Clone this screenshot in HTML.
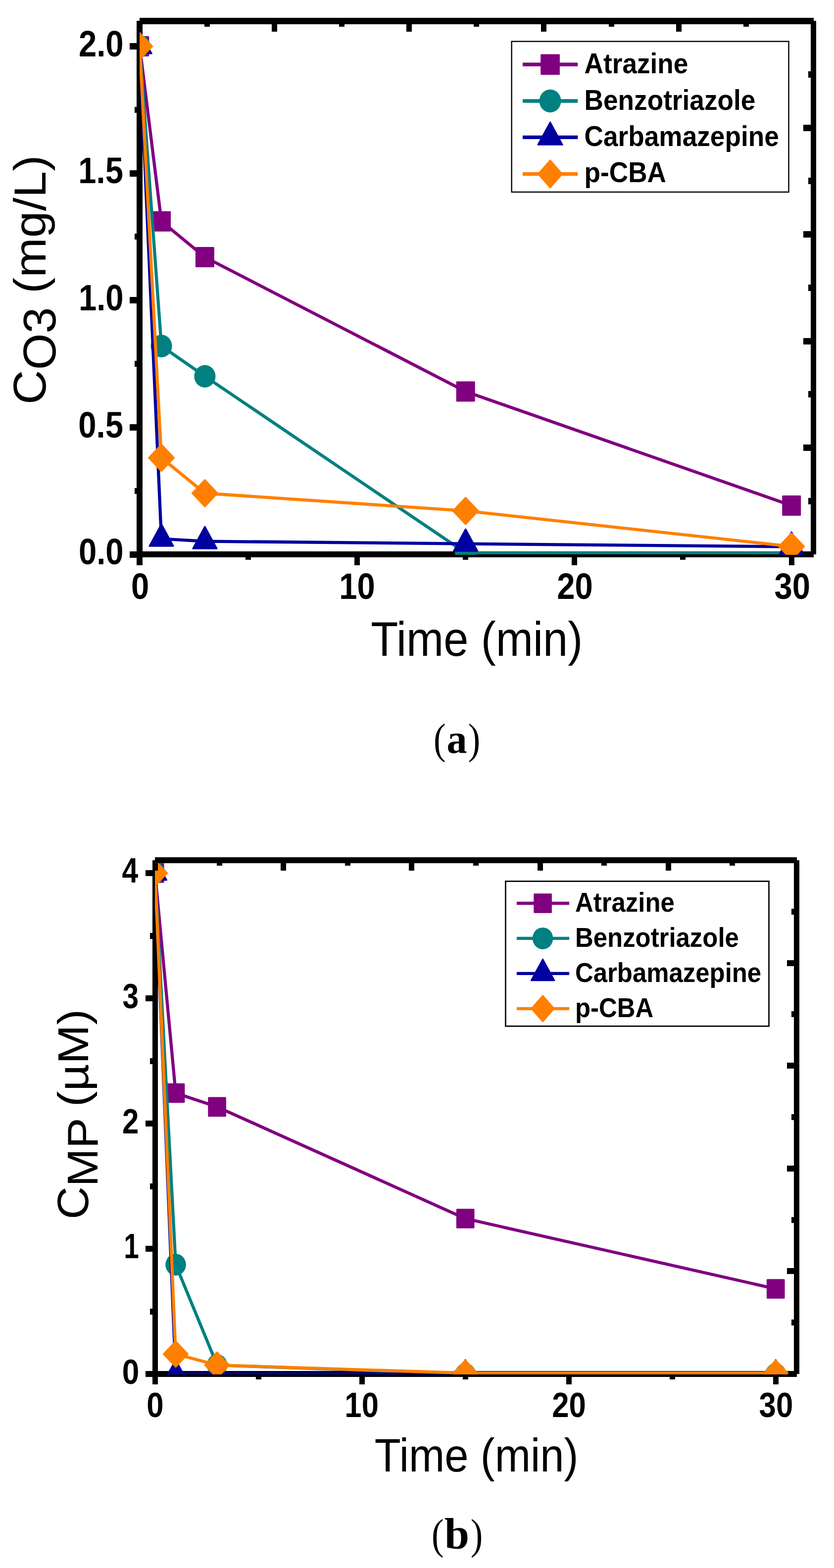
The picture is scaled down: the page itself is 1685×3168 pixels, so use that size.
<!DOCTYPE html>
<html><head><meta charset="utf-8"><title>Figure</title>
<style>html,body{margin:0;padding:0;background:#fff;} svg{display:block;}</style>
</head><body>
<svg width="1685" height="3168" viewBox="0 0 1685 3168">
<rect width="1685" height="3168" fill="#fff"/>
<clipPath id="ca"><rect x="282" y="42.5" width="1361.5" height="1078.5"/></clipPath>
<rect x="282" y="36" width="1362" height="13" fill="#000" shape-rendering="crispEdges"/>
<rect x="1638" y="42" width="11" height="1078" fill="#000" shape-rendering="crispEdges"/>
<rect x="262" y="1114" width="1382" height="12" fill="#000" shape-rendering="crispEdges"/>
<rect x="276" y="42" width="12" height="1100" fill="#000" shape-rendering="crispEdges"/>
<rect x="262" y="1113.5" width="14" height="13" fill="#000" shape-rendering="crispEdges"/>
<rect x="272" y="985.69" width="4" height="12" fill="#000" shape-rendering="crispEdges"/>
<rect x="262" y="856.88" width="14" height="13" fill="#000" shape-rendering="crispEdges"/>
<rect x="272" y="729.06" width="4" height="12" fill="#000" shape-rendering="crispEdges"/>
<rect x="262" y="600.25" width="14" height="13" fill="#000" shape-rendering="crispEdges"/>
<rect x="272" y="472.44" width="4" height="12" fill="#000" shape-rendering="crispEdges"/>
<rect x="262" y="343.62" width="14" height="13" fill="#000" shape-rendering="crispEdges"/>
<rect x="272" y="215.81" width="4" height="12" fill="#000" shape-rendering="crispEdges"/>
<rect x="262" y="87" width="14" height="13" fill="#000" shape-rendering="crispEdges"/>
<rect x="276.7" y="1126" width="11" height="16" fill="#000" shape-rendering="crispEdges"/>
<rect x="496.2" y="1126" width="11" height="5" fill="#000" shape-rendering="crispEdges"/>
<rect x="715.7" y="1126" width="11" height="16" fill="#000" shape-rendering="crispEdges"/>
<rect x="935.2" y="1126" width="11" height="5" fill="#000" shape-rendering="crispEdges"/>
<rect x="1154.7" y="1126" width="11" height="16" fill="#000" shape-rendering="crispEdges"/>
<rect x="1374.2" y="1126" width="11" height="5" fill="#000" shape-rendering="crispEdges"/>
<rect x="1593.7" y="1126" width="11" height="16" fill="#000" shape-rendering="crispEdges"/>
<rect x="412.65" y="49" width="11" height="5" fill="#000" shape-rendering="crispEdges"/>
<rect x="548.8" y="49" width="11" height="15" fill="#000" shape-rendering="crispEdges"/>
<rect x="684.95" y="49" width="11" height="5" fill="#000" shape-rendering="crispEdges"/>
<rect x="821.1" y="49" width="11" height="15" fill="#000" shape-rendering="crispEdges"/>
<rect x="957.25" y="49" width="11" height="5" fill="#000" shape-rendering="crispEdges"/>
<rect x="1093.4" y="49" width="11" height="15" fill="#000" shape-rendering="crispEdges"/>
<rect x="1229.55" y="49" width="11" height="5" fill="#000" shape-rendering="crispEdges"/>
<rect x="1365.7" y="49" width="11" height="15" fill="#000" shape-rendering="crispEdges"/>
<rect x="1501.85" y="49" width="11" height="5" fill="#000" shape-rendering="crispEdges"/>
<rect x="1633" y="143.75" width="5" height="13" fill="#000" shape-rendering="crispEdges"/>
<rect x="1623" y="251.5" width="15" height="13" fill="#000" shape-rendering="crispEdges"/>
<rect x="1633" y="359.25" width="5" height="13" fill="#000" shape-rendering="crispEdges"/>
<rect x="1623" y="467" width="15" height="13" fill="#000" shape-rendering="crispEdges"/>
<rect x="1633" y="574.75" width="5" height="13" fill="#000" shape-rendering="crispEdges"/>
<rect x="1623" y="682.5" width="15" height="13" fill="#000" shape-rendering="crispEdges"/>
<rect x="1633" y="790.25" width="5" height="13" fill="#000" shape-rendering="crispEdges"/>
<rect x="1623" y="898" width="15" height="13" fill="#000" shape-rendering="crispEdges"/>
<rect x="1633" y="1005.75" width="5" height="13" fill="#000" shape-rendering="crispEdges"/>
<g clip-path="url(#ca)">
<polyline points="282.2,93.5 326.1,447.13 413.9,519.5 940.7,791.01 1599.2,1021.46" fill="none" stroke="#800080" stroke-width="6.3" stroke-linejoin="round"/><rect x="264.7" y="74.5" width="35" height="38" fill="#800080" stroke="#800080" stroke-width="3" stroke-linejoin="round"/><rect x="308.6" y="428.13" width="35" height="38" fill="#800080" stroke="#800080" stroke-width="3" stroke-linejoin="round"/><rect x="396.4" y="500.5" width="35" height="38" fill="#800080" stroke="#800080" stroke-width="3" stroke-linejoin="round"/><rect x="923.2" y="772.01" width="35" height="38" fill="#800080" stroke="#800080" stroke-width="3" stroke-linejoin="round"/><rect x="1581.7" y="1002.46" width="35" height="38" fill="#800080" stroke="#800080" stroke-width="3" stroke-linejoin="round"/>
<polyline points="282.2,93.5 326.1,699.13 413.9,760.21 940.7,1116.92 1599.2,1116.92" fill="none" stroke="#008080" stroke-width="6.3" stroke-linejoin="round"/><ellipse cx="282.2" cy="93.5" rx="21.5" ry="22.8" fill="#008080"/><ellipse cx="326.1" cy="699.13" rx="21.5" ry="22.8" fill="#008080"/><ellipse cx="413.9" cy="760.21" rx="21.5" ry="22.8" fill="#008080"/><ellipse cx="940.7" cy="1116.92" rx="21.5" ry="22.8" fill="#008080"/><ellipse cx="1599.2" cy="1116.92" rx="21.5" ry="22.8" fill="#008080"/>
<polyline points="282.2,93.5 326.1,1088.69 413.9,1093.62 940.7,1098.6 1599.2,1104.6" fill="none" stroke="#0000A0" stroke-width="6.3" stroke-linejoin="round"/><polygon points="282.2,63.9 306.3,108.1 258.1,108.1" fill="#0000A0" stroke="#0000A0" stroke-width="3" stroke-linejoin="round"/><polygon points="326.1,1059.09 350.2,1103.29 302,1103.29" fill="#0000A0" stroke="#0000A0" stroke-width="3" stroke-linejoin="round"/><polygon points="413.9,1064.02 438,1108.22 389.8,1108.22" fill="#0000A0" stroke="#0000A0" stroke-width="3" stroke-linejoin="round"/><polygon points="940.7,1069 964.8,1113.2 916.6,1113.2" fill="#0000A0" stroke="#0000A0" stroke-width="3" stroke-linejoin="round"/><polygon points="1599.2,1075 1623.3,1119.2 1575.1,1119.2" fill="#0000A0" stroke="#0000A0" stroke-width="3" stroke-linejoin="round"/>
<polyline points="282.2,93.5 326.1,924.97 413.9,996.51 940.7,1032.23 1599.2,1104.09" fill="none" stroke="#FF8000" stroke-width="6.3" stroke-linejoin="round"/><polygon points="282.2,66.5 307.7,93.5 282.2,120.5 256.7,93.5" fill="#FF8000" stroke="#FF8000" stroke-width="3" stroke-linejoin="round"/><polygon points="326.1,897.97 351.6,924.97 326.1,951.97 300.6,924.97" fill="#FF8000" stroke="#FF8000" stroke-width="3" stroke-linejoin="round"/><polygon points="413.9,969.51 439.4,996.51 413.9,1023.51 388.4,996.51" fill="#FF8000" stroke="#FF8000" stroke-width="3" stroke-linejoin="round"/><polygon points="940.7,1005.23 966.2,1032.23 940.7,1059.23 915.2,1032.23" fill="#FF8000" stroke="#FF8000" stroke-width="3" stroke-linejoin="round"/><polygon points="1599.2,1077.09 1624.7,1104.09 1599.2,1131.09 1573.7,1104.09" fill="#FF8000" stroke="#FF8000" stroke-width="3" stroke-linejoin="round"/>
</g>
<text transform="translate(158.98,1140.38) scale(0.6520,0.7340)" font-family="'Liberation Sans', Arial, sans-serif" font-weight="bold" font-size="100">0.0</text>
<text transform="translate(158.33,883.75) scale(0.6520,0.7340)" font-family="'Liberation Sans', Arial, sans-serif" font-weight="bold" font-size="100">0.5</text>
<text transform="translate(158.98,627.13) scale(0.6520,0.7340)" font-family="'Liberation Sans', Arial, sans-serif" font-weight="bold" font-size="100">1.0</text>
<text transform="translate(158.33,369.77) scale(0.6520,0.7340)" font-family="'Liberation Sans', Arial, sans-serif" font-weight="bold" font-size="100">1.5</text>
<text transform="translate(158.98,113.88) scale(0.6520,0.7340)" font-family="'Liberation Sans', Arial, sans-serif" font-weight="bold" font-size="100">2.0</text>
<text transform="translate(265.07,1210.38) scale(0.6520,0.7340)" font-family="'Liberation Sans', Arial, sans-serif" font-weight="bold" font-size="100">0</text>
<text transform="translate(685.16,1210.38) scale(0.6520,0.7340)" font-family="'Liberation Sans', Arial, sans-serif" font-weight="bold" font-size="100">10</text>
<text transform="translate(1125.14,1210.38) scale(0.6520,0.7340)" font-family="'Liberation Sans', Arial, sans-serif" font-weight="bold" font-size="100">20</text>
<text transform="translate(1564.47,1210.38) scale(0.6520,0.7340)" font-family="'Liberation Sans', Arial, sans-serif" font-weight="bold" font-size="100">30</text>

<text transform="translate(749.19,1324.8) scale(0.9036,0.9750)" font-family="'Liberation Sans', Arial, sans-serif" font-size="100">Time (min)</text>
<text transform="translate(92.07,817.33) rotate(-90) scale(0.9651,0.9296)" font-family="'Liberation Sans', Arial, sans-serif" font-size="100">C</text>
<text transform="translate(112.07,747.24) rotate(-90) scale(0.9476,0.9296)" font-family="'Liberation Sans', Arial, sans-serif" font-size="100">O3</text>
<text transform="translate(91.9,593.01) rotate(-90) scale(0.9679,0.9100)" font-family="'Liberation Sans', Arial, sans-serif" font-size="100">(mg/L)</text>
<rect x="1033.7" y="83.7" width="559.8" height="304.3" fill="none" stroke="#000" stroke-width="2.4"/>
<line x1="1056" y1="130.3" x2="1167.3" y2="130.3" stroke="#800080" stroke-width="7.4"/>
<rect x="1093.72" y="110.89" width="35.76" height="38.82" fill="#800080" stroke="#800080" stroke-width="3" stroke-linejoin="round"/>
<text transform="translate(1180.6,148) scale(0.5320,0.5680)" font-family="'Liberation Sans', Arial, sans-serif" font-weight="bold" font-size="100">Atrazine</text>
<line x1="1056" y1="204" x2="1167.3" y2="204" stroke="#008080" stroke-width="7.4"/>
<ellipse cx="1111.6" cy="204" rx="21.93" ry="23.26" fill="#008080"/>
<text transform="translate(1180.6,221.6) scale(0.5320,0.5680)" font-family="'Liberation Sans', Arial, sans-serif" font-weight="bold" font-size="100">Benzotriazole</text>
<line x1="1056" y1="277.4" x2="1167.3" y2="277.4" stroke="#0000A0" stroke-width="7.4"/>
<polygon points="1111.6,247.17 1136.21,292.32 1086.99,292.32" fill="#0000A0" stroke="#0000A0" stroke-width="3" stroke-linejoin="round"/>
<text transform="translate(1180.6,295) scale(0.5320,0.5680)" font-family="'Liberation Sans', Arial, sans-serif" font-weight="bold" font-size="100">Carbamazepine</text>
<line x1="1056" y1="351.5" x2="1167.3" y2="351.5" stroke="#FF8000" stroke-width="7.4"/>
<polygon points="1111.6,323.93 1135.71,351.5 1111.6,379.07 1087.49,351.5" fill="#FF8000" stroke="#FF8000" stroke-width="3" stroke-linejoin="round"/>
<text transform="translate(1180.6,368.4) scale(0.5320,0.5680)" font-family="'Liberation Sans', Arial, sans-serif" font-weight="bold" font-size="100">p-CBA</text>
<text transform="translate(875.96,1521.72) scale(0.7357,0.8656)" font-family="'Liberation Serif', 'Times New Roman', serif" font-size="100">(</text>
<text transform="translate(945.66,1521.72) scale(0.7357,0.8656)" font-family="'Liberation Serif', 'Times New Roman', serif" font-size="100">)</text>
<text transform="translate(902.53,1520.95) scale(0.8222,0.8521)" font-family="'Liberation Serif', 'Times New Roman', serif" font-weight="bold" font-size="100">a</text>
<clipPath id="cb"><rect x="313" y="1743.7" width="1296.5" height="1033"/></clipPath>
<rect x="313" y="1732" width="1297" height="12" fill="#000" shape-rendering="crispEdges"/>
<rect x="1604" y="1738" width="11" height="1038" fill="#000" shape-rendering="crispEdges"/>
<rect x="294" y="2770" width="1316" height="12" fill="#000" shape-rendering="crispEdges"/>
<rect x="308" y="1738" width="11" height="1059" fill="#000" shape-rendering="crispEdges"/>
<rect x="294" y="2770" width="14" height="12" fill="#000" shape-rendering="crispEdges"/>
<rect x="303" y="2643.5" width="5" height="12" fill="#000" shape-rendering="crispEdges"/>
<rect x="294" y="2517" width="14" height="12" fill="#000" shape-rendering="crispEdges"/>
<rect x="303" y="2390.5" width="5" height="12" fill="#000" shape-rendering="crispEdges"/>
<rect x="294" y="2264" width="14" height="12" fill="#000" shape-rendering="crispEdges"/>
<rect x="303" y="2137.5" width="5" height="12" fill="#000" shape-rendering="crispEdges"/>
<rect x="294" y="2011" width="14" height="12" fill="#000" shape-rendering="crispEdges"/>
<rect x="303" y="1884.5" width="5" height="12" fill="#000" shape-rendering="crispEdges"/>
<rect x="294" y="1758" width="14" height="12" fill="#000" shape-rendering="crispEdges"/>
<rect x="307.7" y="2782" width="11" height="15" fill="#000" shape-rendering="crispEdges"/>
<rect x="516.7" y="2782" width="11" height="5" fill="#000" shape-rendering="crispEdges"/>
<rect x="725.7" y="2782" width="11" height="15" fill="#000" shape-rendering="crispEdges"/>
<rect x="934.7" y="2782" width="11" height="5" fill="#000" shape-rendering="crispEdges"/>
<rect x="1143.7" y="2782" width="11" height="15" fill="#000" shape-rendering="crispEdges"/>
<rect x="1352.7" y="2782" width="11" height="5" fill="#000" shape-rendering="crispEdges"/>
<rect x="1561.7" y="2782" width="11" height="15" fill="#000" shape-rendering="crispEdges"/>
<rect x="437.6" y="1744" width="11" height="5" fill="#000" shape-rendering="crispEdges"/>
<rect x="567.2" y="1744" width="11" height="15" fill="#000" shape-rendering="crispEdges"/>
<rect x="696.8" y="1744" width="11" height="5" fill="#000" shape-rendering="crispEdges"/>
<rect x="826.4" y="1744" width="11" height="15" fill="#000" shape-rendering="crispEdges"/>
<rect x="956" y="1744" width="11" height="5" fill="#000" shape-rendering="crispEdges"/>
<rect x="1085.6" y="1744" width="11" height="15" fill="#000" shape-rendering="crispEdges"/>
<rect x="1215.2" y="1744" width="11" height="5" fill="#000" shape-rendering="crispEdges"/>
<rect x="1344.8" y="1744" width="11" height="15" fill="#000" shape-rendering="crispEdges"/>
<rect x="1474.4" y="1744" width="11" height="5" fill="#000" shape-rendering="crispEdges"/>
<rect x="1599" y="1835.8" width="5" height="12" fill="#000" shape-rendering="crispEdges"/>
<rect x="1590" y="1939.6" width="14" height="12" fill="#000" shape-rendering="crispEdges"/>
<rect x="1599" y="2043.4" width="5" height="12" fill="#000" shape-rendering="crispEdges"/>
<rect x="1590" y="2147.2" width="14" height="12" fill="#000" shape-rendering="crispEdges"/>
<rect x="1599" y="2251" width="5" height="12" fill="#000" shape-rendering="crispEdges"/>
<rect x="1590" y="2354.8" width="14" height="12" fill="#000" shape-rendering="crispEdges"/>
<rect x="1599" y="2458.6" width="5" height="12" fill="#000" shape-rendering="crispEdges"/>
<rect x="1590" y="2562.4" width="14" height="12" fill="#000" shape-rendering="crispEdges"/>
<rect x="1599" y="2666.2" width="5" height="12" fill="#000" shape-rendering="crispEdges"/>
<g clip-path="url(#cb)">
<polyline points="313.2,1764 355,2208.52 438.6,2236.35 940.2,2462.03 1567.2,2603.96" fill="none" stroke="#800080" stroke-width="6.3" stroke-linejoin="round"/><rect x="296.37" y="1745.72" width="33.67" height="36.56" fill="#800080" stroke="#800080" stroke-width="3" stroke-linejoin="round"/><rect x="338.17" y="2190.24" width="33.67" height="36.56" fill="#800080" stroke="#800080" stroke-width="3" stroke-linejoin="round"/><rect x="421.76" y="2218.07" width="33.67" height="36.56" fill="#800080" stroke="#800080" stroke-width="3" stroke-linejoin="round"/><rect x="923.37" y="2443.74" width="33.67" height="36.56" fill="#800080" stroke="#800080" stroke-width="3" stroke-linejoin="round"/><rect x="1550.37" y="2585.68" width="33.67" height="36.56" fill="#800080" stroke="#800080" stroke-width="3" stroke-linejoin="round"/>
<polyline points="313.2,1764 355,2555.13 438.6,2758.04 940.2,2776 1567.2,2776" fill="none" stroke="#008080" stroke-width="6.3" stroke-linejoin="round"/><ellipse cx="313.2" cy="1764" rx="20.75" ry="22" fill="#008080"/><ellipse cx="355" cy="2555.13" rx="20.75" ry="22" fill="#008080"/><ellipse cx="438.6" cy="2758.04" rx="20.75" ry="22" fill="#008080"/><ellipse cx="940.2" cy="2776" rx="20.75" ry="22" fill="#008080"/><ellipse cx="1567.2" cy="2776" rx="20.75" ry="22" fill="#008080"/>
<polyline points="313.2,1764 355,2776 438.6,2776 940.2,2776 1567.2,2776" fill="none" stroke="#0000A0" stroke-width="6.3" stroke-linejoin="round"/><polygon points="313.2,1735.51 336.4,1778.04 290,1778.04" fill="#0000A0" stroke="#0000A0" stroke-width="3" stroke-linejoin="round"/><polygon points="355,2747.51 378.2,2790.04 331.8,2790.04" fill="#0000A0" stroke="#0000A0" stroke-width="3" stroke-linejoin="round"/><polygon points="438.6,2747.51 461.8,2790.04 415.4,2790.04" fill="#0000A0" stroke="#0000A0" stroke-width="3" stroke-linejoin="round"/><polygon points="940.2,2747.51 963.4,2790.04 917,2790.04" fill="#0000A0" stroke="#0000A0" stroke-width="3" stroke-linejoin="round"/><polygon points="1567.2,2747.51 1590.4,2790.04 1544,2790.04" fill="#0000A0" stroke="#0000A0" stroke-width="3" stroke-linejoin="round"/>
<polyline points="313.2,1764 355,2735.77 438.6,2758.04 940.2,2774.23 1567.2,2774.23" fill="none" stroke="#FF8000" stroke-width="6.3" stroke-linejoin="round"/><polygon points="313.2,1738 337.75,1764 313.2,1790 288.64,1764" fill="#FF8000" stroke="#FF8000" stroke-width="3" stroke-linejoin="round"/><polygon points="355,2709.77 379.56,2735.77 355,2761.78 330.44,2735.77" fill="#FF8000" stroke="#FF8000" stroke-width="3" stroke-linejoin="round"/><polygon points="438.6,2732.03 463.15,2758.04 438.6,2784.04 414.04,2758.04" fill="#FF8000" stroke="#FF8000" stroke-width="3" stroke-linejoin="round"/><polygon points="940.2,2748.23 964.75,2774.23 940.2,2800.23 915.65,2774.23" fill="#FF8000" stroke="#FF8000" stroke-width="3" stroke-linejoin="round"/><polygon points="1567.2,2748.23 1591.76,2774.23 1567.2,2800.23 1542.64,2774.23" fill="#FF8000" stroke="#FF8000" stroke-width="3" stroke-linejoin="round"/>
</g>
<rect x="313" y="1744" width="6" height="14.7" fill="#000" shape-rendering="crispEdges"/>
<text transform="translate(246.71,2796) scale(0.6213,0.7000)" font-family="'Liberation Sans', Arial, sans-serif" font-weight="bold" font-size="100">0</text>
<text transform="translate(250.28,2542.3) scale(0.5500,0.7000)" font-family="'Liberation Sans', Arial, sans-serif" font-weight="bold" font-size="100">1</text>
<text transform="translate(247,2290) scale(0.6000,0.7000)" font-family="'Liberation Sans', Arial, sans-serif" font-weight="bold" font-size="100">2</text>
<text transform="translate(247.62,2037) scale(0.5880,0.7000)" font-family="'Liberation Sans', Arial, sans-serif" font-weight="bold" font-size="100">3</text>
<text transform="translate(246.53,1783.3) scale(0.5868,0.7000)" font-family="'Liberation Sans', Arial, sans-serif" font-weight="bold" font-size="100">4</text>
<text transform="translate(296.2,2863) scale(0.6180,0.7000)" font-family="'Liberation Sans', Arial, sans-serif" font-weight="bold" font-size="100">0</text>
<text transform="translate(696.28,2863) scale(0.6180,0.7000)" font-family="'Liberation Sans', Arial, sans-serif" font-weight="bold" font-size="100">10</text>
<text transform="translate(1115.21,2863) scale(0.6180,0.7000)" font-family="'Liberation Sans', Arial, sans-serif" font-weight="bold" font-size="100">20</text>
<text transform="translate(1533.52,2863) scale(0.6180,0.7000)" font-family="'Liberation Sans', Arial, sans-serif" font-weight="bold" font-size="100">30</text>
<text transform="translate(756.86,2972.9) scale(0.8685,0.9400)" font-family="'Liberation Sans', Arial, sans-serif" font-size="100">Time (min)</text>
<text transform="translate(177.92,2463.5) rotate(-90) scale(0.9190,0.8845)" font-family="'Liberation Sans', Arial, sans-serif" font-size="100">C</text>
<text transform="translate(197,2397.42) rotate(-90) scale(0.9270,0.8696)" font-family="'Liberation Sans', Arial, sans-serif" font-size="100">MP</text>
<text transform="translate(178,2236.31) rotate(-90) scale(0.9523,0.8700)" font-family="'Liberation Sans', Arial, sans-serif" font-size="100">(µM)</text>
<rect x="1021.45" y="1780.55" width="532.05" height="292.75" fill="none" stroke="#000" stroke-width="2.7"/>
<line x1="1043.9" y1="1825" x2="1150.1" y2="1825" stroke="#800080" stroke-width="6.3"/>
<rect x="1079.76" y="1806.72" width="33.67" height="36.56" fill="#800080" stroke="#800080" stroke-width="3" stroke-linejoin="round"/>
<text transform="translate(1162,1842.2) scale(0.5090,0.5570)" font-family="'Liberation Sans', Arial, sans-serif" font-weight="bold" font-size="100">Atrazine</text>
<line x1="1043.9" y1="1895.9" x2="1150.1" y2="1895.9" stroke="#008080" stroke-width="6.3"/>
<ellipse cx="1096.6" cy="1895.9" rx="20.75" ry="22" fill="#008080"/>
<text transform="translate(1162,1913) scale(0.5090,0.5570)" font-family="'Liberation Sans', Arial, sans-serif" font-weight="bold" font-size="100">Benzotriazole</text>
<line x1="1043.9" y1="1966.8" x2="1150.1" y2="1966.8" stroke="#0000A0" stroke-width="6.3"/>
<polygon points="1096.6,1938.31 1119.8,1980.84 1073.4,1980.84" fill="#0000A0" stroke="#0000A0" stroke-width="3" stroke-linejoin="round"/>
<text transform="translate(1162,1983.6) scale(0.5090,0.5570)" font-family="'Liberation Sans', Arial, sans-serif" font-weight="bold" font-size="100">Carbamazepine</text>
<line x1="1043.9" y1="2037.8" x2="1150.1" y2="2037.8" stroke="#FF8000" stroke-width="6.3"/>
<polygon points="1096.6,2011.8 1119.33,2037.8 1096.6,2063.8 1073.87,2037.8" fill="#FF8000" stroke="#FF8000" stroke-width="3" stroke-linejoin="round"/>
<text transform="translate(1162,2054.5) scale(0.5090,0.5570)" font-family="'Liberation Sans', Arial, sans-serif" font-weight="bold" font-size="100">p-CBA</text>
<text transform="translate(872.05,3128.8) scale(0.7367,0.8667)" font-family="'Liberation Serif', 'Times New Roman', serif" font-size="100">(</text>
<text transform="translate(950.64,3128.8) scale(0.7367,0.8667)" font-family="'Liberation Serif', 'Times New Roman', serif" font-size="100">)</text>
<text transform="translate(898,3128.8) scale(0.9020,0.8971)" font-family="'Liberation Serif', 'Times New Roman', serif" font-weight="bold" font-size="100">b</text>
</svg>
</body></html>
